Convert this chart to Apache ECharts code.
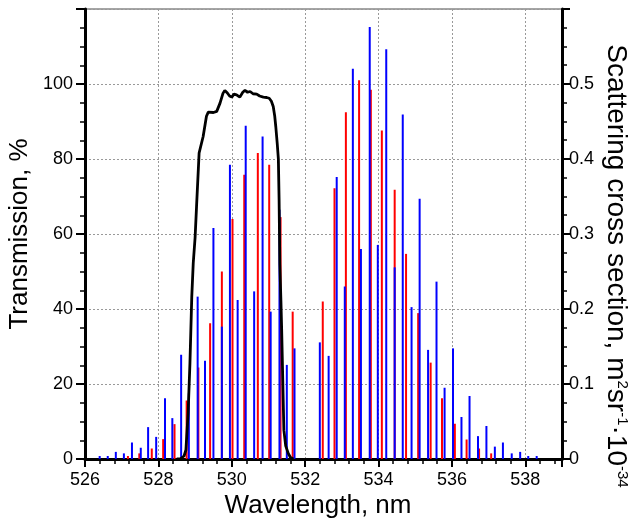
<!DOCTYPE html>
<html>
<head>
<meta charset="utf-8">
<script src="https://cdn.jsdelivr.net/npm/echarts@6/dist/echarts.min.js"></script>
<style>
html,body{margin:0;padding:0;background:#fff;}
#chart{width:635px;height:523px;}
</style>
</head>
<body>
<div id="chart"></div>
<script>
// Wavelength positions (nm) and cross sections (m^2 sr^-1 10^-34)
var blueX = [526.40,526.62,526.84,527.06,527.28,527.52,527.72,527.94,528.18,528.38,528.62,528.83,529.07,529.27,529.50,529.73,529.95,530.16,530.38,530.61,530.84,531.06,531.30,531.50,531.71,
             532.40,532.64,532.86,533.08,533.30,533.52,533.76,533.98,534.21,534.44,534.66,534.90,535.12,535.35,535.58,535.80,536.03,536.26,536.48,536.71,536.94,537.17,537.39,537.63,537.86,538.08,538.31];
var blueY = [0.004,0.004,0.0095,0.0075,0.022,0.015,0.0425,0.0295,0.081,0.0545,0.139,0.0875,0.2165,0.131,0.308,0.1765,0.3925,0.212,0.4445,0.2235,0.43,0.1965,0.3325,0.1255,0.1475,
             0.1555,0.1375,0.376,0.23,0.5205,0.28,0.576,0.2855,0.5465,0.2555,0.4595,0.2025,0.347,0.1455,0.2365,0.095,0.1475,0.056,0.084,0.0305,0.044,0.0165,0.022,0.0075,0.0095,0.004,0.004];
var redX = [527.17,527.48,527.82,528.13,528.44,528.77,529.09,529.41,529.73,530.02,530.34,530.71,531.02,531.33,531.66,
            532.48,532.80,533.11,533.47,533.79,534.09,534.44,534.75,535.08,535.42,535.73,536.08,536.40,536.74,537.07];
var redY = [0.004,0.0075,0.014,0.0265,0.0465,0.078,0.122,0.181,0.25,0.32,0.379,0.408,0.3925,0.3225,0.1965,
            0.21,0.361,0.4625,0.505,0.4925,0.438,0.359,0.2735,0.1945,0.1285,0.081,0.047,0.026,0.014,0.0075];
// Filter transmission (%)
var transX = [528.50,528.59,528.70,528.75,528.81,528.86,528.91,528.95,529.00,529.04,529.11,529.22,529.31,529.36,529.41,529.50,529.59,529.68,529.76,529.81,529.88,529.94,530.00,530.06,530.10,530.13,530.22,530.30,530.36,530.43,530.50,530.58,530.68,530.76,530.86,530.95,531.02,531.08,531.13,531.17,531.20,531.24,531.27,531.29,531.31,531.34,531.36,531.39,531.42,531.47,531.54,531.60,531.68];
var transY = [0,0,0.8,2.4,12.2,25.5,43.3,52.2,59,67.3,81.6,86.0,91.4,92.5,92.7,92.4,92.7,94.9,97.5,98.3,97.6,96.8,96.5,97.3,96.8,97.1,96.5,97.8,98.3,97.8,98.0,97.4,97.3,96.8,96.5,96.4,96.2,95.4,94,91.5,88.6,84,80,69,52,42,34.4,21,7.7,3.5,1.5,0.4,0];
var xTicks = {min:526, max:539, step:2};
var leftTicks = {min:0, max:120, step:20};
var rightTicks = {min:0, max:0.6, step:0.1};

function zip(a,b){ return a.map(function(v,i){ return [v,b[i]]; }); }
function stick(color){
  return function(params, api){
    var p0 = api.coord([api.value(0), 0]);
    var p1 = api.coord([api.value(0), api.value(1)]);
    return {type:'line', shape:{x1:p0[0],y1:p0[1],x2:p1[0],y2:p1[1]}, style:{stroke:color, lineWidth:2}};
  };
}
var FONT = '"Liberation Sans", Arial, sans-serif';
var chart = echarts.init(document.getElementById('chart'), null, {renderer:'canvas'});
var axisLineStyle = {color:'#000', width:3};
var gridLine = {show:true, lineStyle:{color:'#999', type:[2,2], width:1}};
chart.setOption({
  animation:false,
  backgroundColor:'#fff',
  grid:{left:85, right:73, top:9, bottom:64, show:true, borderColor:'#888', borderWidth:1.5, backgroundColor:'transparent'},
  xAxis:{
    type:'value', min:xTicks.min, max:xTicks.max, interval:xTicks.step,
    axisLine:{show:true, onZero:false, lineStyle:axisLineStyle},
    axisTick:{show:true, inside:false, length:8, lineStyle:{color:'#000', width:2}},
    minorTick:{show:true, splitNumber:5, length:5, lineStyle:{color:'#000', width:1.5}},
    axisLabel:{fontSize:18, color:'#000', fontFamily:FONT, margin:12, showMaxLabel:false,
      formatter:function(v){ return v>538 ? '' : String(v); }},
    splitLine:gridLine
  },
  yAxis:[{
    type:'value', min:leftTicks.min, max:leftTicks.max, interval:leftTicks.step, position:'left',
    axisLine:{show:true, onZero:false, lineStyle:axisLineStyle},
    axisTick:{show:true, inside:false, length:9, lineStyle:{color:'#000', width:2}},
    minorTick:{show:true, splitNumber:4, length:5, lineStyle:{color:'#000', width:1.5}},
    axisLabel:{fontSize:18, color:'#000', fontFamily:FONT, margin:12, showMaxLabel:false,
      formatter:function(v){ return v>=120 ? '' : String(v); }},
    splitLine:gridLine
  },{
    type:'value', min:rightTicks.min, max:rightTicks.max, interval:rightTicks.step, position:'right',
    axisLine:{show:true, onZero:false, lineStyle:axisLineStyle},
    axisTick:{show:true, inside:false, length:8, lineStyle:{color:'#000', width:2}},
    minorTick:{show:true, splitNumber:4, length:5, lineStyle:{color:'#000', width:1.5}},
    axisLabel:{fontSize:18, color:'#000', fontFamily:FONT, margin:7, showMaxLabel:false,
      formatter:function(v){ if (v>0.55) return ''; return v===0 ? '0' : v.toFixed(1); }},
    splitLine:{show:false}
  }],
  series:[
    {type:'custom', yAxisIndex:1, renderItem:stick('#ff0000'), data:zip(redX,redY), encode:{x:0,y:1}, z:2},
    {type:'custom', yAxisIndex:1, renderItem:stick('#0000ff'), data:zip(blueX,blueY), encode:{x:0,y:1}, z:3},
    {type:'line', yAxisIndex:0, data:zip(transX,transY), symbol:'none', smooth:false,
      lineStyle:{color:'#000', width:2.8}, z:4}
  ],
  graphic:[
    {type:'text', x:318, y:506, style:{text:'Wavelength, nm', fontSize:26, fontFamily:FONT, fill:'#000', align:'center', verticalAlign:'middle'}},
    {type:'text', x:20, y:234, rotation:Math.PI/2, style:{text:'Transmission, %', fontSize:26, fontFamily:FONT, fill:'#000', align:'center', verticalAlign:'middle'}},
    {type:'text', x:616, y:266, rotation:-Math.PI/2, style:{
      text:'{a|Scattering cross section, m}{s|2}{a|sr}{s|-1}{a|·10}{s|-34}',
      fill:'#000', align:'center', verticalAlign:'middle',
      rich:{a:{fontSize:28, fontFamily:FONT, fill:'#000'}, s:{fontSize:15, fontFamily:FONT, fill:'#000', verticalAlign:'top'}}
    }}
  ]
});
</script>
</body>
</html>
